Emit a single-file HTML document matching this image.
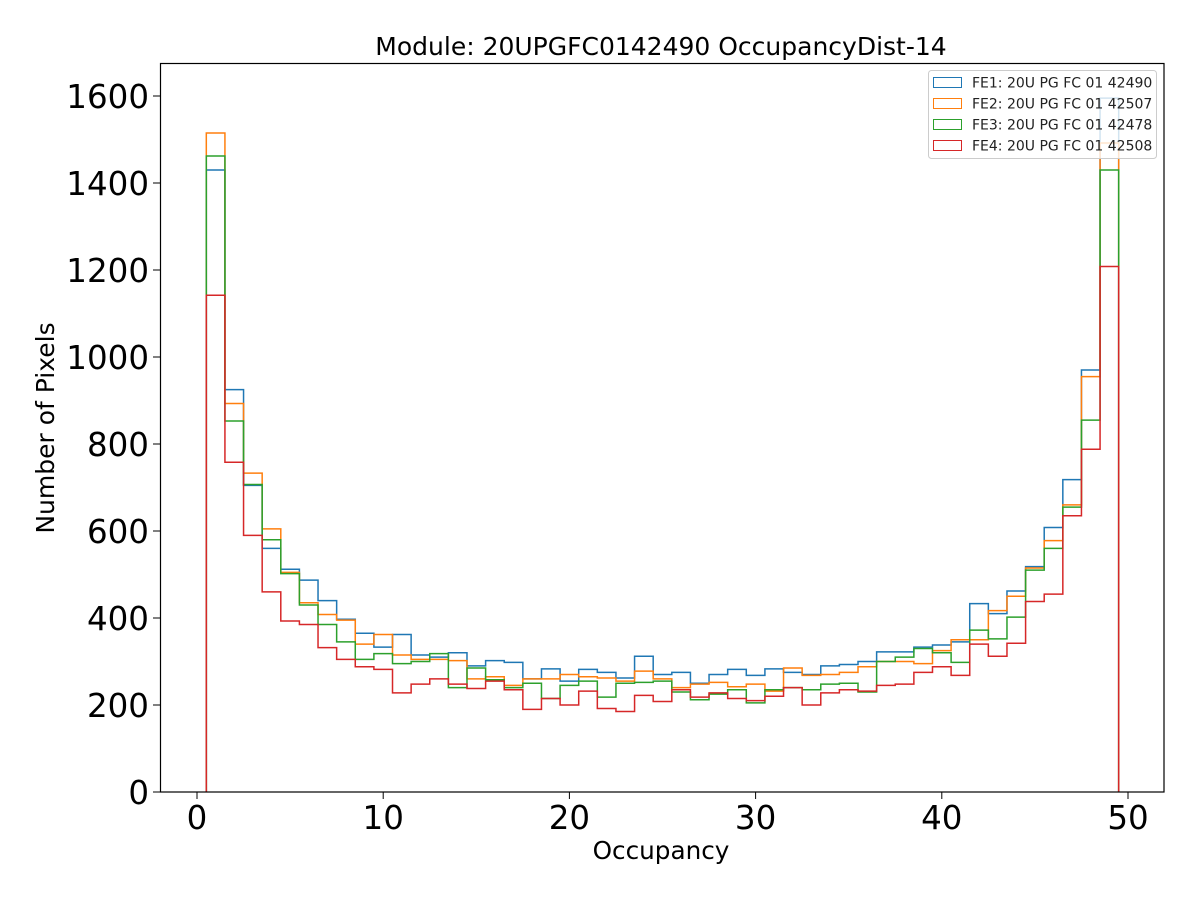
<!DOCTYPE html>
<html><head><meta charset="utf-8"><style>
body{margin:0;background:#fff;font-family:"DejaVu Sans","Liberation Sans",sans-serif}
</style></head><body>
<svg id="s" width="1200" height="900" xmlns="http://www.w3.org/2000/svg" font-family="DejaVu Sans, Liberation Sans, sans-serif">
<rect width="1200" height="900" fill="#fff"/>
<g id="series"></g>
<rect x="160.5" y="63.5" width="1003.5" height="728.5" fill="none" stroke="#000" stroke-width="1.2"/>
<g id="ticks" font-size="32.5" fill="#000"></g>
<text x="661" y="55" font-size="25" text-anchor="middle">Module: 20UPGFC0142490 OccupancyDist-14</text>
<text x="661" y="859" font-size="24.7" text-anchor="middle">Occupancy</text>
<text transform="translate(54,428) rotate(-90)" font-size="25" text-anchor="middle">Number of Pixels</text>
<g>
<rect x="928.5" y="70.5" width="228" height="88" rx="3" fill="#fff" fill-opacity="0.8" stroke="#ccc"/>
<rect x="933.5" y="77.5" width="28" height="10" fill="none" stroke="#1f77b4"/>
<rect x="933.5" y="98.5" width="28" height="10" fill="none" stroke="#ff7f0e"/>
<rect x="933.5" y="119.5" width="28" height="10" fill="none" stroke="#2ca02c"/>
<rect x="933.5" y="140.5" width="28" height="10" fill="none" stroke="#d62728"/>
<g font-size="14" fill="#222">
<text x="972" y="87.5">FE1: 20U PG FC 01 42490</text>
<text x="972" y="108.5">FE2: 20U PG FC 01 42507</text>
<text x="972" y="129.5">FE3: 20U PG FC 01 42478</text>
<text x="972" y="150.5">FE4: 20U PG FC 01 42508</text>
</g></g>
</svg>
<script>
const X=v=>197+v*18.62, Y=v=>792-v*0.435;
const D={
"#1f77b4":[1430,925,705,560,512,487,440,397,365,333,362,315,310,320,290,302,298,260,283,255,282,275,262,312,270,275,250,270,282,268,283,275,270,290,293,300,322,322,333,338,345,433,410,462,518,608,718,970,1595],
"#ff7f0e":[1515,893,733,605,505,435,408,395,340,362,315,305,305,302,260,265,245,260,260,270,265,262,255,278,260,240,248,252,242,248,232,285,268,270,275,288,300,300,295,325,350,350,417,450,515,578,660,955,1492],
"#2ca02c":[1462,853,707,580,502,430,385,345,305,318,295,300,318,240,285,258,240,250,215,245,255,218,250,252,255,230,212,225,235,205,235,240,235,248,250,230,300,310,330,320,298,372,352,402,510,560,655,855,1430],
"#d62728":[1142,758,590,460,393,385,332,305,288,282,228,248,260,248,238,255,235,190,215,200,232,192,185,222,208,235,218,228,215,210,220,240,200,228,235,232,245,248,275,288,268,340,312,342,438,455,635,788,1208]};
let g=document.getElementById('series'),h='';
for(const c in D){let v=D[c],p='M'+X(0.5)+' 792';v.forEach((y,i)=>{p+=' L'+X(i+0.5)+' '+Y(y)+' L'+X(i+1.5)+' '+Y(y);});p+=' L'+X(49.5)+' 792';
h+=`<path d="${p}" fill="none" stroke="${c}" stroke-width="1.5"/>`;}
g.innerHTML=h;
let t='';
for(let v=0;v<=50;v+=10){t+=`<line x1="${X(v)}" y1="792" x2="${X(v)}" y2="799" stroke="#000"/><text x="${X(v)}" y="829" text-anchor="middle">${v}</text>`;}
for(let v=0;v<=1600;v+=200){t+=`<line x1="153" y1="${Y(v)}" x2="160" y2="${Y(v)}" stroke="#000"/><text x="149" y="${Y(v)+12}" text-anchor="end">${v}</text>`;}
document.getElementById('ticks').innerHTML=t;
</script>
</body></html>
